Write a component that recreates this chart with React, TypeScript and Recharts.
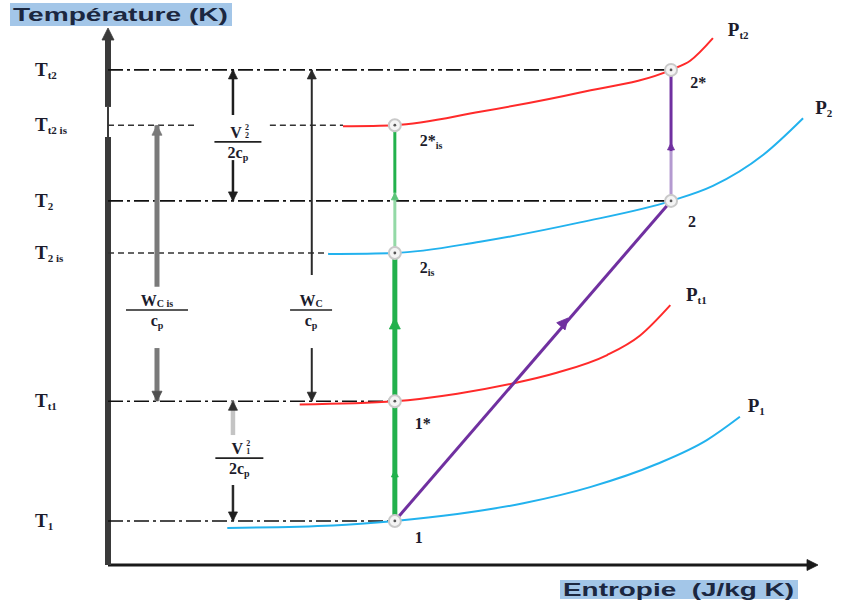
import React from 'react';
import { ComposedChart, Line, Scatter, XAxis, YAxis, ReferenceLine, ReferenceDot } from 'recharts';

// Temperature levels on the T axis (arbitrary units, 0..100)
const levelTicks = [
  { T: 92.2, sub: 't2' },
  { T: 81.9, sub: 't2 is' },
  { T: 67.8, sub: '2' },
  { T: 58.1, sub: '2 is' },
  { T: 30.5, sub: 't1' },
  { T: 8.2, sub: '1' },
];

// Entropy of the inlet state and of the real outlet state
const S_IN = 40.4;
const S_OUT = 79.3;

// Thermodynamic states
const states = [
  { id: '1', s: 40.4, T: 8.2 },
  { id: '1*', s: 40.4, T: 30.5 },
  { id: '2is', s: 40.4, T: 58.1 },
  { id: '2*is', s: 40.4, T: 81.9 },
  { id: '2', s: 79.3, T: 67.8 },
  { id: '2*', s: 79.3, T: 92.2 },
];

// Isobars
const isobarP1 = [
  { s: 16.8, T: 6.9 }, { s: 31.7, T: 7.35 }, { s: 40.4, T: 8.2 }, { s: 49.2, T: 9.5 },
  { s: 58.5, T: 11.5 }, { s: 67.9, T: 14.5 }, { s: 77.3, T: 18.8 }, { s: 84.4, T: 23.3 },
  { s: 89.0, T: 27.6 },
];
const isobarPt1 = [
  { s: 27.0, T: 29.9 }, { s: 40.4, T: 30.5 }, { s: 49.2, T: 31.9 }, { s: 57.0, T: 33.8 },
  { s: 63.2, T: 35.8 }, { s: 70.3, T: 39.1 }, { s: 74.9, T: 42.7 }, { s: 79.2, T: 48.4 },
];
const isobarP2 = [
  { s: 31.0, T: 57.9 }, { s: 40.4, T: 58.1 }, { s: 52.4, T: 60.2 }, { s: 66.5, T: 63.8 },
  { s: 79.3, T: 67.8 }, { s: 85.2, T: 70.6 }, { s: 92.3, T: 76.4 }, { s: 97.9, T: 83.2 },
];
const isobarPt2 = [
  { s: 33.1, T: 81.7 }, { s: 40.4, T: 81.9 }, { s: 52.4, T: 84.4 }, { s: 66.5, T: 88.0 },
  { s: 79.3, T: 92.2 }, { s: 82.0, T: 93.9 }, { s: 85.2, T: 98.1 },
];

// Processes
const isentropicUpper = [{ s: S_IN, T: 81.9 }, { s: S_IN, T: 69.3 }];
const isentropicMidLight = [{ s: S_IN, T: 69.3 }, { s: S_IN, T: 58.1 }];
const isentropicLower = [{ s: S_IN, T: 58.1 }, { s: S_IN, T: 8.2 }];
const realCompression = [{ s: S_IN, T: 8.2 }, { s: S_OUT, T: 67.8 }];
const stagnationOutUpper = [{ s: S_OUT, T: 92.2 }, { s: S_OUT, T: 77.0 }];
const stagnationOutLower = [{ s: S_OUT, T: 77.0 }, { s: S_OUT, T: 67.8 }];

// Isobar names
const isobarLabels = [
  { s: 87.3, T: 99.6, main: 'P', sub: 't2' },
  { s: 99.6, T: 85.1, main: 'P', sub: '2' },
  { s: 81.4, T: 50.3, main: 'P', sub: 't1' },
  { s: 90.1, T: 29.6, main: 'P', sub: '1' },
];

// State names
const stateLabels = [
  { s: 82.0, T: 89.9, main: '2*', sub: '' },
  { s: 43.9, T: 79.1, main: '2*', sub: 'is' },
  { s: 81.7, T: 63.9, main: '2', sub: '' },
  { s: 43.9, T: 55.3, main: '2', sub: 'is' },
  { s: 43.2, T: 26.4, main: '1*', sub: '' },
  { s: 43.2, T: 5.0, main: '1', sub: '' },
];

// Energy fractions written beside the dimension arrows
const fractions = [
  { s: 18.3, T: 78.8, num: 'V', numSup: '2', numSub: '2', numIdx: '', den: '2c', denSub: 'p', w: 47 },
  { s: 6.9, T: 47.5, num: 'W', numSup: '', numSub: '', numIdx: 'C is', den: 'c', denSub: 'p', w: 62 },
  { s: 28.6, T: 47.5, num: 'W', numSup: '', numSub: '', numIdx: 'C', den: 'c', denSub: 'p', w: 42 },
  { s: 18.5, T: 19.9, num: 'V', numSup: '2', numSub: '1', numIdx: '', den: '2c', denSub: 'p', w: 48 },
];

// Dimension arrow shafts
const dimSegments = [
  { s: 6.9, a: 81.9, b: 51.8, color: '#7a7a7a', w: 5 },
  { s: 6.9, a: 40.4, b: 30.5, color: '#7a7a7a', w: 5 },
  { s: 28.7, a: 92.2, b: 54.0, color: '#2a2a2a', w: 2 },
  { s: 28.7, a: 40.4, b: 30.5, color: '#2a2a2a', w: 2 },
  { s: 17.6, a: 92.2, b: 83.8, color: '#1e1e1e', w: 2.5 },
  { s: 17.6, a: 75.4, b: 67.8, color: '#1e1e1e', w: 2.5 },
  { s: 17.6, a: 30.5, b: 24.2, color: '#c4c4c4', w: 4.5 },
  { s: 17.6, a: 14.9, b: 8.2, color: '#2a2a2a', w: 2.5 },
];

// Arrow heads: tip position, direction (deg, 0 = up, clockwise), colour, size
const arrowHeads = [
  { s: 0, T: 100, angle: 0, color: '#3a3a3a', size: 12 },
  { s: 100, T: 0, angle: 90, color: '#1a1a1a', size: 11 },
  { s: S_IN, T: 17.7, angle: 0, color: '#22b14c', size: 7 },
  { s: S_IN, T: 46.0, angle: 0, color: '#22b14c', size: 11 },
  { s: S_IN, T: 69.3, angle: 0, color: '#5dc47a', size: 7 },
  { s: 64.8, T: 46.0, angle: 40.8, color: '#7030a0', size: 11 },
  { s: S_OUT, T: 78.6, angle: 0, color: '#7030a0', size: 7 },
  { s: 6.9, T: 81.9, angle: 0, color: '#7a7a7a', size: 10 },
  { s: 6.9, T: 30.5, angle: 180, color: '#505050', size: 10 },
  { s: 28.7, T: 92.2, angle: 0, color: '#2a2a2a', size: 9 },
  { s: 28.7, T: 30.5, angle: 180, color: '#2a2a2a', size: 9 },
  { s: 17.6, T: 92.2, angle: 0, color: '#1e1e1e', size: 9 },
  { s: 17.6, T: 67.8, angle: 180, color: '#1e1e1e', size: 9 },
  { s: 17.6, T: 30.5, angle: 0, color: '#303030', size: 9 },
  { s: 17.6, T: 8.2, angle: 180, color: '#1e1e1e', size: 9 },
];

const RED = '#ff2a2a';
const BLUE = '#22b2ee';
const GREEN = '#22b14c';
const PURPLE = '#7030a0';
const SERIF = '"Liberation Serif", "DejaVu Serif", serif';
const SANS = '"Liberation Sans", Arial, sans-serif';
const INK = '#1c1c2c';

const LevelTick = (props: any) => {
  const { y, payload } = props;
  const item = levelTicks.find((l) => Math.abs(l.T - payload.value) < 1e-6);
  if (!item) return null;
  return (
    <text x={35} y={y + 6} fontFamily={SERIF} fontWeight="bold" fill={INK}>
      <tspan fontSize={19}>T</tspan>
      <tspan fontSize={11} dy={3}>{item.sub}</tspan>
    </text>
  );
};

const ArrowHead = ({ cx, cy, item }: any) => {
  const k = item.size;
  const w = k * 0.5;
  return (
    <path
      d={`M0,0 L${-w},${k} L${w},${k} Z`}
      transform={`translate(${cx},${cy}) rotate(${item.angle})`}
      fill={item.color}
      stroke={item.color}
      strokeWidth={0.8}
    />
  );
};

const StateMarker = (props: any) => {
  const { cx, cy } = props;
  return (
    <g>
      <circle cx={cx} cy={cy} r={6} fill="#f4f4f4" stroke="#c9c9c9" strokeWidth={2} />
      <circle cx={cx} cy={cy} r={1.4} fill="#555" />
    </g>
  );
};

const NameText = ({ cx, cy, item, size, subSize }: any) => (
  <text x={cx} y={cy + size * 0.33} fontFamily={SERIF} fontWeight="bold" fill={INK}>
    <tspan fontSize={size}>{item.main}</tspan>
    {item.sub ? <tspan fontSize={subSize} dy={3}>{item.sub}</tspan> : null}
  </text>
);

const FractionText = ({ cx, cy, item }: any) => {
  const p = item;
  const half = p.w / 2;
  return (
    <g fontFamily={SERIF} fontWeight="bold" fill={INK}>
      {p.numSup ? (
        <g>
          <text x={cx - 2} y={cy - 4} fontSize={16} textAnchor="middle">{p.num}</text>
          <text x={cx + 7} y={cy - 12} fontSize={8}>{p.numSup}</text>
          <text x={cx + 7} y={cy - 4} fontSize={8}>{p.numSub}</text>
        </g>
      ) : (
        <text x={cx} y={cy - 4} textAnchor="middle">
          <tspan fontSize={16}>{p.num}</tspan>
          <tspan fontSize={10} dy={1}>{p.numIdx}</tspan>
        </text>
      )}
      <line x1={cx - half} x2={cx + half} y1={cy} y2={cy} stroke="#222" strokeWidth={1.6} />
      <text x={cx} y={cy + 16} textAnchor="middle">
        <tspan fontSize={16}>{p.den}</tspan>
        <tspan fontSize={10} dy={3}>{p.denSub}</tspan>
      </text>
    </g>
  );
};

const YTitle = () => (
  <g>
    <rect x={10} y={3} width={222} height={23} fill="#a3c6e8" />
    <text x={13} y={21} fontFamily={SANS} fontWeight="bold" fontSize={18} fill="#1b2740"
      textLength={215} lengthAdjust="spacingAndGlyphs">Température (K)</text>
  </g>
);

const XTitle = () => (
  <g>
    <rect x={560} y={580} width={238} height={19} fill="#a3c6e8" />
    <text x={563} y={596} fontFamily={SANS} fontWeight="bold" fontSize={18} fill="#1b2740"
      textLength={231} lengthAdjust="spacingAndGlyphs" xmlSpace="preserve">Entropie  (J/kg K)</text>
  </g>
);

const DASH_DOT = '15 4 3 4';
const DOTTED = '6 4';

export default function App() {
  const curve = (data: any[], color: string, key: string) => (
    <Line key={key} data={data} dataKey="T" type="monotone" stroke={color} strokeWidth={2}
      dot={false} activeDot={false} isAnimationActive={false} />
  );
  const seg = (data: any[], color: string, w: number, key: string) => (
    <Line key={key} data={data} dataKey="T" type="linear" stroke={color} strokeWidth={w}
      dot={false} activeDot={false} isAnimationActive={false} />
  );
  return (
    <div style={{ position: 'absolute', left: 0, top: 0, background: '#fff' }}>
      <ComposedChart width={846} height={600} margin={{ top: 28, right: 28, bottom: 0, left: 38 }}>
        <XAxis type="number" dataKey="s" domain={[0, 100]} allowDataOverflow height={35}
          tick={false} tickLine={false} axisLine={false} label={{ content: <XTitle /> }} />
        <YAxis type="number" dataKey="T" domain={[0, 100]} allowDataOverflow width={70}
          ticks={levelTicks.map((l) => l.T)} interval={0} tick={<LevelTick />}
          tickLine={false} axisLine={false} label={{ content: <YTitle /> }} />

        {/* axes drawn as heavy strokes */}
        <ReferenceLine segment={[{ x: 0, y: 0 }, { x: 99, y: 0 }]} stroke="#1a1a1a" strokeWidth={3} ifOverflow="visible" />
        <ReferenceLine segment={[{ x: 0, y: 0 }, { x: 0, y: 79.7 }]} stroke="#3a3a3a" strokeWidth={6} ifOverflow="visible" />
        <ReferenceLine segment={[{ x: 0, y: 79.7 }, { x: 0, y: 85.3 }]} stroke="#3a3a3a" strokeWidth={2} ifOverflow="visible" />
        <ReferenceLine segment={[{ x: 0, y: 85.3 }, { x: 0, y: 98.5 }]} stroke="#3a3a3a" strokeWidth={6} ifOverflow="visible" />

        {/* temperature guide lines */}
        <ReferenceLine segment={[{ x: 0, y: 92.2 }, { x: S_OUT, y: 92.2 }]} stroke="#111" strokeWidth={1.6} strokeDasharray={DASH_DOT} />
        <ReferenceLine segment={[{ x: 0, y: 81.9 }, { x: 12.5, y: 81.9 }]} stroke="#333" strokeWidth={1.4} strokeDasharray={DOTTED} />
        <ReferenceLine segment={[{ x: 22.8, y: 81.9 }, { x: 33.1, y: 81.9 }]} stroke="#333" strokeWidth={1.4} strokeDasharray={DOTTED} />
        <ReferenceLine segment={[{ x: 0, y: 67.8 }, { x: S_OUT, y: 67.8 }]} stroke="#111" strokeWidth={1.6} strokeDasharray={DASH_DOT} />
        <ReferenceLine segment={[{ x: 0, y: 58.1 }, { x: 31.0, y: 58.1 }]} stroke="#333" strokeWidth={1.4} strokeDasharray={DOTTED} />
        <ReferenceLine segment={[{ x: 0, y: 30.5 }, { x: S_IN, y: 30.5 }]} stroke="#111" strokeWidth={1.6} strokeDasharray={DASH_DOT} />
        <ReferenceLine segment={[{ x: 0, y: 8.2 }, { x: S_IN, y: 8.2 }]} stroke="#111" strokeWidth={1.6} strokeDasharray={DASH_DOT} />

        {/* dimension arrow shafts */}
        {dimSegments.map((d, i) => (
          <ReferenceLine key={`dim${i}`} segment={[{ x: d.s, y: d.a }, { x: d.s, y: d.b }]}
            stroke={d.color} strokeWidth={d.w} />
        ))}

        {curve(isobarP1, BLUE, 'p1')}
        {curve(isobarPt1, RED, 'pt1')}
        {curve(isobarP2, BLUE, 'p2')}
        {curve(isobarPt2, RED, 'pt2')}

        {seg(isentropicLower, GREEN, 5, 'g1')}
        {seg(isentropicMidLight, '#93d9a6', 3, 'g2')}
        {seg(isentropicUpper, GREEN, 3, 'g3')}
        {seg(realCompression, PURPLE, 3, 'pr')}
        {seg(stagnationOutUpper, PURPLE, 3, 'ps1')}
        {seg(stagnationOutLower, '#b49ad0', 3, 'ps2')}

        {arrowHeads.map((a, i) => (
          <ReferenceDot key={`ah${i}`} x={a.s} y={a.T} r={0} ifOverflow="visible"
            shape={(p: any) => <ArrowHead cx={p.cx} cy={p.cy} item={a} />} />
        ))}

        <Scatter data={states} dataKey="T" shape={<StateMarker />} isAnimationActive={false} />

        {isobarLabels.map((l, i) => (
          <ReferenceDot key={`il${i}`} x={l.s} y={l.T} r={0} ifOverflow="visible"
            shape={(p: any) => <NameText cx={p.cx} cy={p.cy} item={l} size={19} subSize={11} />} />
        ))}
        {stateLabels.map((l, i) => (
          <ReferenceDot key={`sl${i}`} x={l.s} y={l.T} r={0} ifOverflow="visible"
            shape={(p: any) => <NameText cx={p.cx} cy={p.cy} item={l} size={16} subSize={10} />} />
        ))}
        {fractions.map((f, i) => (
          <ReferenceDot key={`fr${i}`} x={f.s} y={f.T} r={0} ifOverflow="visible"
            shape={(p: any) => <FractionText cx={p.cx} cy={p.cy} item={f} />} />
        ))}
      </ComposedChart>
    </div>
  );
}
